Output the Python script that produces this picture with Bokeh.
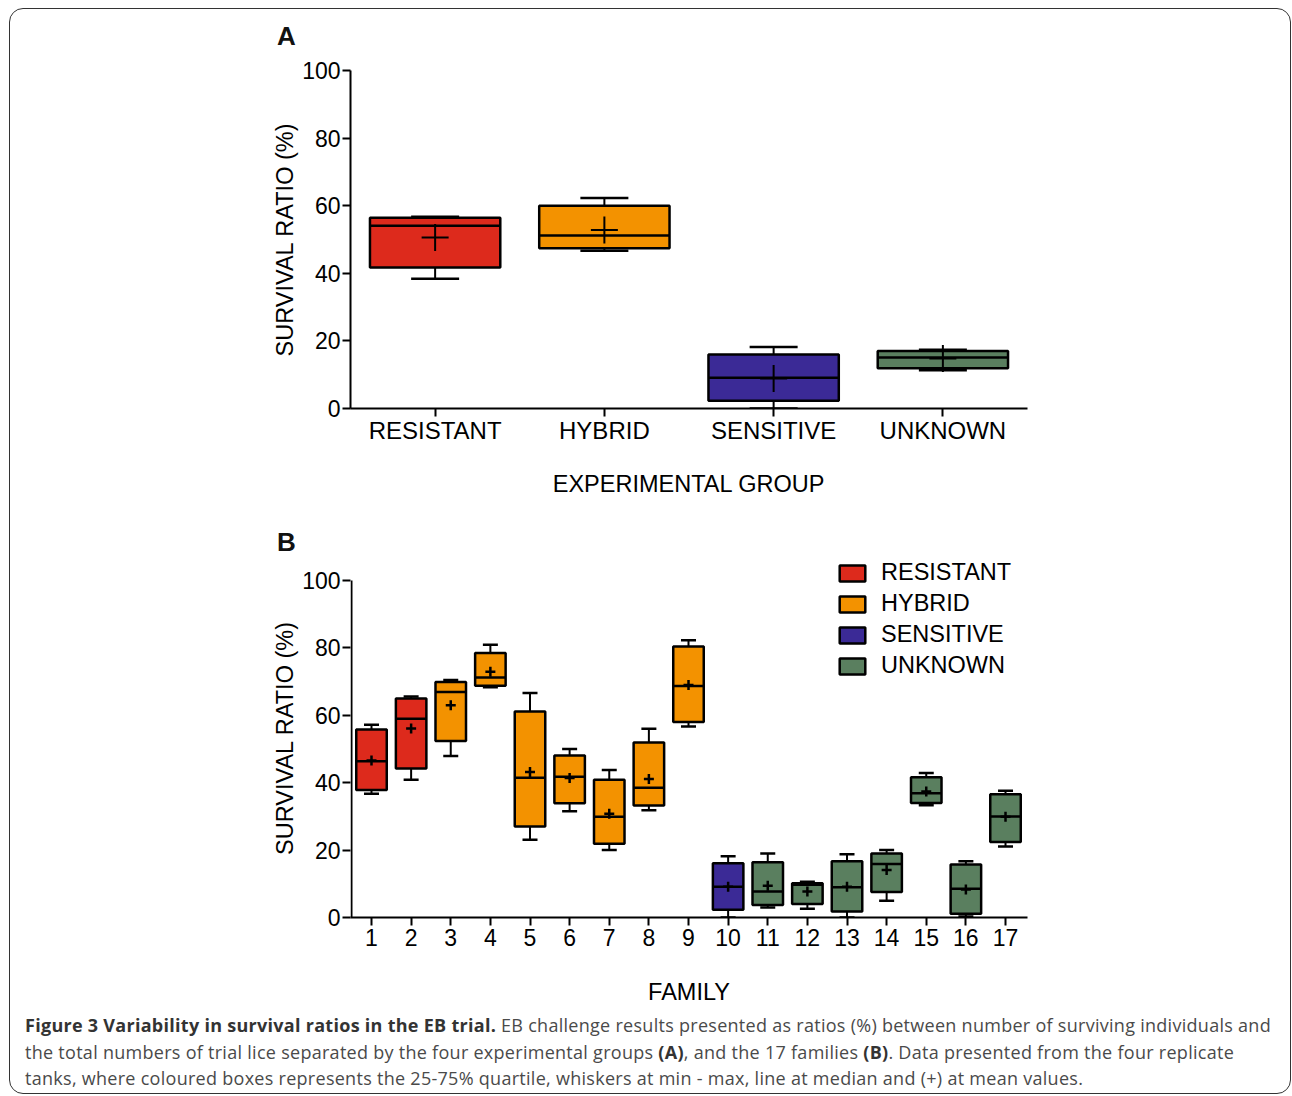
from bokeh.plotting import figure
from bokeh.models import (ColumnDataSource, Range1d, FactorRange, FixedTicker,
                          Legend, LegendItem, Div)
from bokeh.transform import dodge
from bokeh.layouts import column
from bokeh.embed import file_html
from bokeh.resources import INLINE

# ---------------- data ----------------
groups = ["RESISTANT", "HYBRID", "SENSITIVE", "UNKNOWN"]
group_colors = ["#DD2A1C", "#F39200", "#3B2A96", "#5A7F5F"]

# Panel A (by experimental group)
a_min = [38.4, 46.7, 0.0, 11.3]
a_q1 = [41.7, 47.4, 2.3, 11.9]
a_med = [54.1, 51.2, 9.1, 15.1]
a_q3 = [56.4, 60.0, 16.0, 17.0]
a_max = [56.7, 62.3, 18.2, 17.4]
a_mean = [50.6, 52.8, 8.9, 14.8]

# Panel B (by family)
families = list(range(1, 18))
fam_group = ["RESISTANT", "RESISTANT",
             "HYBRID", "HYBRID", "HYBRID", "HYBRID", "HYBRID", "HYBRID", "HYBRID",
             "SENSITIVE",
             "UNKNOWN", "UNKNOWN", "UNKNOWN", "UNKNOWN", "UNKNOWN", "UNKNOWN", "UNKNOWN"]
b_min = [36.7, 40.9, 47.9, 68.3, 23.1, 31.5, 20.0, 31.8, 56.7, 0.0, 3.0, 2.6, 0.0, 5.0, 33.3, 0.3, 21.1]
b_q1 = [37.8, 44.2, 52.4, 68.8, 27.0, 33.9, 21.9, 33.2, 58.0, 2.3, 3.7, 4.0, 1.8, 7.6, 34.0, 1.1, 22.4]
b_med = [46.4, 59.0, 66.9, 71.2, 41.5, 41.8, 29.9, 38.5, 68.7, 9.1, 7.7, 9.7, 9.0, 15.9, 36.9, 8.5, 30.0]
b_q3 = [55.8, 65.0, 69.9, 78.5, 61.1, 48.1, 40.9, 51.9, 80.4, 16.1, 16.4, 10.2, 16.7, 19.0, 41.6, 15.7, 36.6]
b_max = [57.2, 65.6, 70.5, 80.9, 66.6, 50.0, 43.8, 56.0, 82.3, 18.2, 19.0, 10.6, 18.8, 20.0, 42.9, 16.7, 37.6]
b_mean = [46.6, 56.1, 63.0, 72.9, 43.2, 41.4, 30.8, 41.1, 69.0, 9.1, 9.4, 7.7, 9.1, 14.1, 37.4, 8.3, 29.9]

y_ticks = [0, 20, 40, 60, 80, 100]

FONT = "Liberation Sans"
W = 1280
LEFT = 340
FRAME_W = 677


def style_axes(p, xlabel, ylabel):
    for ax in (p.xaxis[0], p.yaxis[0]):
        ax.axis_line_width = 2
        ax.axis_line_color = "black"
        ax.major_tick_line_width = 2
        ax.major_tick_line_color = "black"
        ax.major_tick_out = 8
        ax.major_tick_in = 0
        ax.minor_tick_line_color = None
        ax.major_label_text_font = FONT
        ax.major_label_text_font_size = "23px"
        ax.major_label_text_color = "black"
        ax.axis_label_text_font = FONT
        ax.axis_label_text_font_size = "23.5px"
        ax.axis_label_text_font_style = "normal"
        ax.axis_label_text_color = "black"
    p.xaxis.axis_label = xlabel
    p.yaxis.axis_label = ylabel
    p.yaxis.major_label_standoff = 2
    p.yaxis.axis_label_standoff = 1
    p.yaxis.ticker = FixedTicker(ticks=y_ticks)
    p.xgrid.grid_line_color = None
    p.ygrid.grid_line_color = None
    p.outline_line_color = None


def panel_letter(letter, height, top):
    return Div(text=("<div style=\"position:relative; left:267px; top:%dpx; "
                     "font-family:'Liberation Sans'; font-weight:bold; font-size:26px; "
                     "line-height:26px; color:#111;\">%s</div>") % (top, letter),
               width=W, height=height, margin=0)


# ---------------- Panel A ----------------
divA = panel_letter("A", 40, 14)

HA = 460
pA = figure(width=W, height=HA, x_range=FactorRange(*groups, range_padding=0),
            y_range=Range1d(0, 100), output_backend="svg", toolbar_location=None,
            min_border_left=LEFT, min_border_right=W - LEFT - FRAME_W,
            min_border_top=21, min_border_bottom=HA - 21 - 338)
pA.x_range.factor_padding = 0
style_axes(pA, "EXPERIMENTAL GROUP", "SURVIVAL RATIO (%)")
pA.xaxis.major_label_text_font_size = "24px"
pA.xaxis.major_label_standoff = 0
pA.xaxis.axis_label_standoff = 24

srcA = ColumnDataSource(dict(g=groups, c=group_colors, mn=a_min, q1=a_q1, med=a_med,
                             q3=a_q3, mx=a_max, mean=a_mean))
pA.segment(x0="g", y0="mn", x1="g", y1="mx", source=srcA, line_color="black", line_width=2)
pA.scatter(x="g", y="mn", source=srcA, marker="dash", size=48, line_color="black", line_width=2.5)
pA.scatter(x="g", y="mx", source=srcA, marker="dash", size=48, line_color="black", line_width=2.5)
pA.vbar(x="g", width=0.77, bottom="q1", top="q3", source=srcA, fill_color="c",
        line_color="black", line_width=2.5)
pA.segment(x0=dodge("g", -0.385, range=pA.x_range), y0="med",
           x1=dodge("g", 0.385, range=pA.x_range), y1="med",
           source=srcA, line_color="black", line_width=2.5)
pA.scatter(x="g", y="mean", source=srcA, marker="cross", size=27, line_color="black", line_width=2)

# ---------------- Panel B ----------------
divB = panel_letter("B", 47, 20)

HB = 451
B_TOP = 2
B_FRAME_H = 359
xB0, xB1 = 0.47, 17.555
yB_end = 100 * B_FRAME_H / 337.0
pB = figure(width=W, height=HB, x_range=Range1d(xB0, xB1), y_range=Range1d(0, yB_end),
            output_backend="svg", toolbar_location=None,
            min_border_left=LEFT, min_border_right=W - LEFT - FRAME_W,
            min_border_top=B_TOP, min_border_bottom=HB - B_TOP - B_FRAME_H)
style_axes(pB, "FAMILY", "SURVIVAL RATIO (%)")
pB.xaxis.ticker = FixedTicker(ticks=families)
pB.xaxis.major_label_standoff = 3
pB.xaxis.axis_label_standoff = 30
# y axis line only from 0 to 100 (frame extends higher for the legend)
pB.yaxis.axis_line_color = None
px_unit = (xB1 - xB0) / FRAME_W
pB.segment(x0=[xB0 + px_unit], y0=[0], x1=[xB0 + px_unit], y1=[y_ticks[-1]],
           line_color="black", line_width=2)

half = 0.385
srcB = ColumnDataSource(dict(f=families, g=fam_group, mn=b_min, q1=b_q1, med=b_med,
                             q3=b_q3, mx=b_max, mean=b_mean,
                             l=[f - half for f in families], r=[f + half for f in families]))
pB.segment(x0="f", y0="mn", x1="f", y1="mx", source=srcB, line_color="black", line_width=2)
pB.scatter(x="f", y="mn", source=srcB, marker="dash", size=15, line_color="black", line_width=2.5)
pB.scatter(x="f", y="mx", source=srcB, marker="dash", size=15, line_color="black", line_width=2.5)

items = []
for g, col in zip(groups, group_colors):
    idx = [i for i, gg in enumerate(fam_group) if gg == g]
    s = ColumnDataSource(dict(f=[families[i] for i in idx], q1=[b_q1[i] for i in idx],
                              q3=[b_q3[i] for i in idx]))
    r = pB.vbar(x="f", width=2 * half, bottom="q1", top="q3", source=s, fill_color=col,
                line_color="black", line_width=2.5)
    items.append(LegendItem(label=g, renderers=[r]))

pB.segment(x0="l", y0="med", x1="r", y1="med", source=srcB, line_color="black", line_width=2.5)
pB.scatter(x="f", y="mean", source=srcB, marker="cross", size=10, line_color="black", line_width=2.5)

legend = Legend(items=items, location=(486, 238), glyph_width=32, glyph_height=20,
                label_standoff=13, spacing=4, padding=0, margin=0,
                label_text_font=FONT, label_text_font_size="23.5px", label_text_color="black",
                border_line_color=None, background_fill_alpha=0)
pB.add_layout(legend, "center")

# ---------------- caption ----------------
caption = Div(
    text=("<div style=\"padding:5px 0 0 15px; font-family:'Open Sans'; font-size:18px; "
          "letter-spacing:0.28px; line-height:26.5px; color:#4a4a4a; white-space:nowrap;\">"
          "<b style='color:#333'>Figure 3 Variability in survival ratios in the EB trial.</b> "
          "EB challenge results presented as ratios (%) between number of surviving individuals and<br>"
          "the total numbers of trial lice separated by the four experimental groups <b style='color:#333'>(A)</b>, "
          "and the 17 families <b style='color:#333'>(B)</b>. Data presented from the four replicate<br>"
          "tanks, where coloured boxes represents the 25-75% quartile, whiskers at min - max, "
          "line at median and (+) at mean values.</div>"),
    width=W, height=86, margin=0)

layout = column(divA, pA, divB, pB, caption, margin=(8, 0, 0, 9),
                styles={"border": "1px solid #333", "border-radius": "14px"})

open("out.html", "w").write(file_html(layout, INLINE))
